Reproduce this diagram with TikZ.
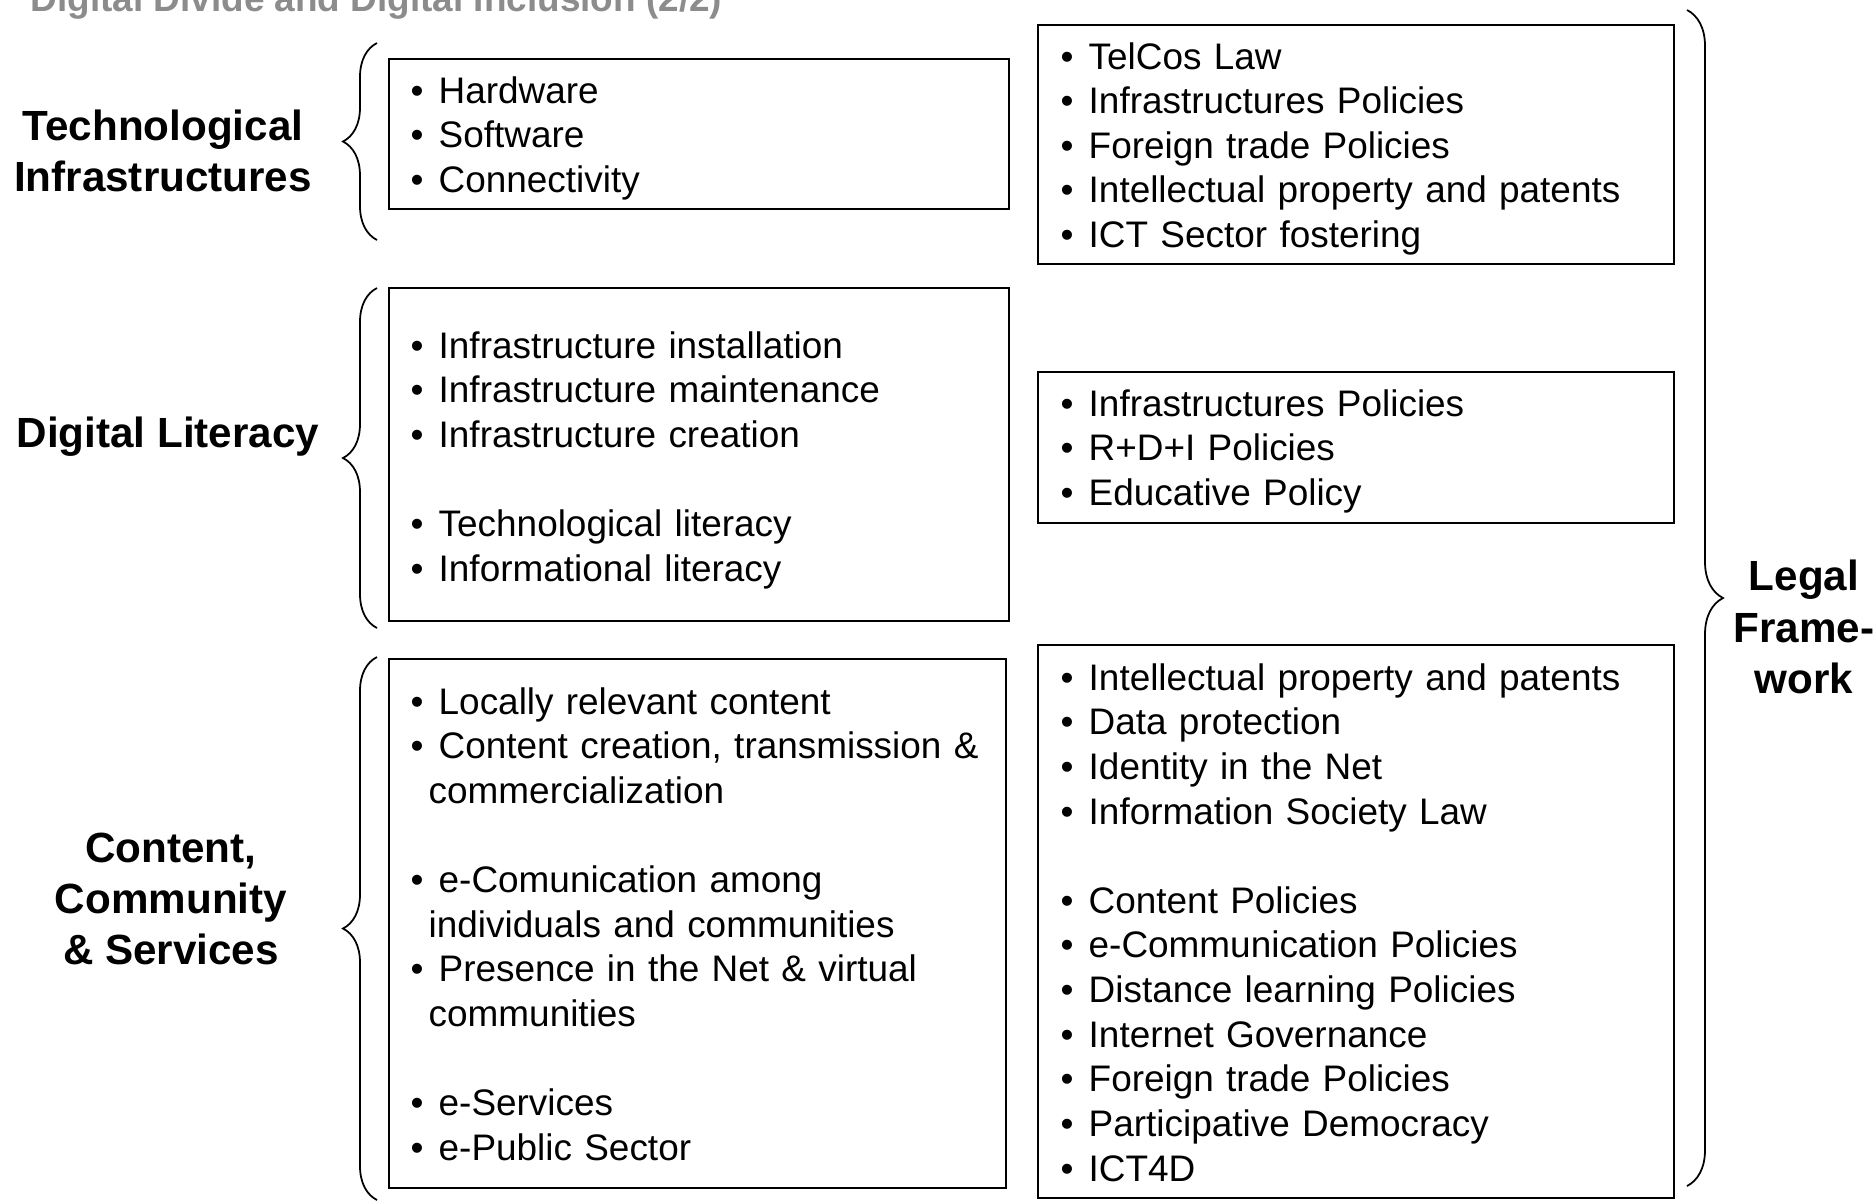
\documentclass[tikz,border=0pt]{standalone}
\usepackage{fontspec}
\setmainfont{Liberation Sans}
\usepackage{tikz}
\usetikzlibrary{decorations.pathreplacing}

\definecolor{titlegray}{RGB}{140,140,140}
\newcommand{\bodyfont}{\fontsize{10.5}{12.7}\selectfont}
\newcommand{\headfont}{\fontsize{12}{14.6}\selectfont\bfseries}
\newcommand{\itm}{\makebox[0.28cm][l]{\textbullet}}
\newcommand{\cnt}{\hspace*{0.18cm}}

\tikzset{
	box/.style={draw, line width=0.7pt, inner sep=0pt},
	txt/.style={anchor=base west, inner sep=0pt, text width=6.1cm, align=left, font=\bodyfont},
	head/.style={align=center, font=\headfont, inner sep=0pt},
	brc/.style={decorate, decoration={brace, amplitude=#1}, line width=0.5pt},
	brc/.default=0.34cm
}

\begin{document}
\begin{tikzpicture}[x=0.01cm,y=-0.01cm]
		\useasboundingbox (0,0) rectangle (1876,1202);
		\node[anchor=base west, inner sep=0pt, text=titlegray, font=\bfseries\bodyfont] (title) at (30,11) {Digital Divide and Digital Inclusion (2/2)};
		% left column
		\node[box, minimum width=6.2cm, minimum height=1.5cm] (techbox) at (699,134) {};
		\node[box, minimum width=6.2cm, minimum height=3.33cm] (litbox) at (699,454.5) {};
		\node[box, minimum width=6.17cm, minimum height=5.29cm] (contbox) at (697.5,923.5) {};
		\node[txt] (techtxt) at (410,103) {\itm Hardware\\ \itm Software\\ \itm Connectivity};
		\node[txt] (littxt) at (410,358) {\itm Infrastructure installation\\ \itm Infrastructure maintenance\\ \itm Infrastructure creation\\[\baselineskip] \itm Technological literacy\\ \itm Informational literacy};
		\node[txt] (conttxt) at (410,714) {\itm Locally relevant content\\ \itm Content creation, transmission \&\\ \cnt commercialization\\[\baselineskip] \itm e-Comunication among\\ \cnt individuals and communities\\ \itm Presence in the Net \& virtual\\ \cnt communities\\[\baselineskip] \itm e-Services\\ \itm e-Public Sector};
		% right column
		\node[box, minimum width=6.36cm, minimum height=2.39cm] (lawA) at (1356,144.5) {};
		\node[box, minimum width=6.36cm, minimum height=1.51cm] (lawB) at (1356,447.5) {};
		\node[box, minimum width=6.36cm, minimum height=5.53cm] (lawC) at (1356,921.5) {};
		\node[txt] (lawAtxt) at (1060,69) {\itm TelCos Law\\ \itm Infrastructures Policies\\ \itm Foreign trade Policies\\ \itm Intellectual property and patents\\ \itm ICT Sector fostering};
		\node[txt] (lawBtxt) at (1060,416) {\itm Infrastructures Policies\\ \itm R+D+I Policies\\ \itm Educative Policy};
		\node[txt] (lawCtxt) at (1060,690) {\itm Intellectual property and patents\\ \itm Data protection\\ \itm Identity in the Net\\ \itm Information Society Law\\[\baselineskip] \itm Content Policies\\ \itm e-Communication Policies\\ \itm Distance learning Policies\\ \itm Internet Governance\\ \itm Foreign trade Policies\\ \itm Participative Democracy\\ \itm ICT4D};
		% labels
		\node[head] (techlbl) at (163,151) {Technological\\Infrastructures};
		\node[head] (litlbl) at (168,437) {Digital Literacy};
		\node[head] (contlbl) at (171,899) {Content,\\Community\\\& Services};
		\node[head] (legallbl) at (1804,627) {Legal\\Frame-\\work};
		% braces
		\draw[brc] (377,240) -- (377,43);
		\draw[brc] (377,628) -- (377,288);
		\draw[brc] (377,1200) -- (377,657);
		\draw[brc=0.36cm] (1687,10) -- (1687,1186);
\end{tikzpicture}
\end{document}
